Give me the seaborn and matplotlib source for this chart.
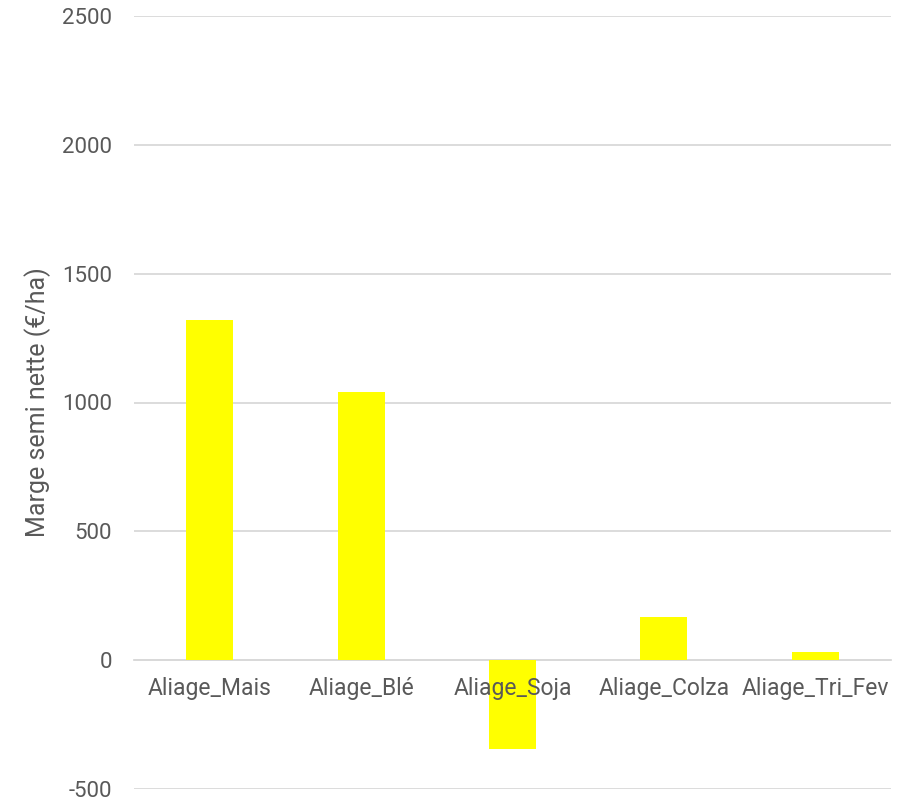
import matplotlib
matplotlib.use("Agg")
import matplotlib.pyplot as plt
import seaborn as sns
import pandas as pd

categories = ["Aliage_Mais", "Aliage_Blé", "Aliage_Soja", "Aliage_Colza", "Aliage_Tri_Fev"]
marge = [1320, 1039, -343, 166, 33]
y_ticks = [-500, 0, 500, 1000, 1500, 2000, 2500]

df = pd.DataFrame({"culture": categories, "marge": marge})

sns.set_theme(style="white")
plt.rcParams["font.family"] = ["Roboto", "DejaVu Sans"]
plt.rcParams["axes.unicode_minus"] = False

fig = plt.figure(figsize=(9.05, 8.02), dpi=100)
ax = fig.add_axes([134 / 905, 1 - 789 / 802, (891 - 134) / 905, (789 - 16) / 802])

sns.barplot(data=df, x="culture", y="marge", color="#FFFF00", saturation=1,
            width=0.31, linewidth=0, ax=ax, zorder=3)

ax.set_ylim(-500, 2500)
ax.set_yticks(y_ticks)
ax.yaxis.grid(True, color="#D9D9D9", linewidth=1.3)
ax.set_axisbelow(True)
for side in ["left", "right", "top"]:
    ax.spines[side].set_visible(False)
ax.spines["bottom"].set_position(("data", 0))
ax.spines["bottom"].set_color("#D9D9D9")
ax.spines["bottom"].set_linewidth(1.3)
ax.spines["bottom"].set_zorder(1)

ax.tick_params(axis="y", length=0, pad=16, labelsize=16, labelcolor="#595959")
ax.tick_params(axis="x", length=0, pad=12, labelsize=16.5, labelcolor="#595959")
# category labels sit on top of the bars
ax.xaxis.set_zorder(5)

ax.set_xlabel("")
ax.set_ylabel("Marge semi nette (€/ha)", fontsize=18, color="#595959")
ax.yaxis.set_label_coords(-0.11, 0.5)

fig.savefig("out.png", dpi=100)
